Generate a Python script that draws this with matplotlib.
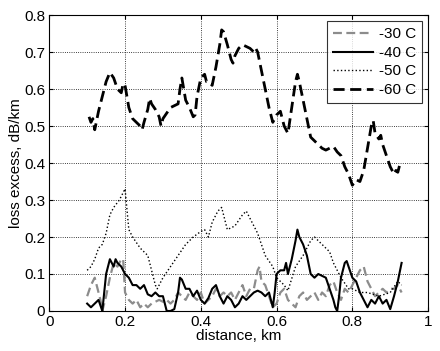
import numpy as np
import matplotlib
matplotlib.use("Agg")
import matplotlib.pyplot as plt

plt.rcParams['font.family'] = ['Liberation Sans', 'DejaVu Sans']

# -60 C
x60 = [0.105, 0.11, 0.115, 0.12, 0.13, 0.14, 0.15, 0.16, 0.17, 0.18, 0.19, 0.195, 0.20, 0.21,
       0.22, 0.23, 0.24, 0.245, 0.25, 0.26, 0.265, 0.27, 0.28, 0.29, 0.295, 0.30, 0.31, 0.32,
       0.33, 0.34, 0.345, 0.35, 0.355, 0.36, 0.37, 0.38, 0.385, 0.39, 0.40, 0.41, 0.415, 0.42,
       0.43, 0.44, 0.45, 0.455, 0.46, 0.47, 0.48, 0.485, 0.49, 0.50, 0.51, 0.52, 0.53, 0.54,
       0.545, 0.55, 0.56, 0.57, 0.58, 0.59, 0.60, 0.61, 0.62, 0.63, 0.64, 0.65, 0.655, 0.66,
       0.67, 0.68, 0.69, 0.70, 0.71, 0.72, 0.73, 0.74, 0.75, 0.76, 0.77, 0.78, 0.79, 0.80,
       0.81, 0.82, 0.83, 0.84, 0.85, 0.855, 0.86, 0.87, 0.875, 0.88, 0.89, 0.90, 0.91, 0.915,
       0.92, 0.925]
y60 = [0.525, 0.51, 0.52, 0.49, 0.54, 0.58, 0.62, 0.645, 0.63, 0.60, 0.59, 0.615, 0.61, 0.55,
       0.52, 0.51, 0.50, 0.49, 0.51, 0.545, 0.575, 0.56, 0.545, 0.525, 0.50, 0.52, 0.535, 0.55,
       0.555, 0.56, 0.60, 0.63, 0.60, 0.57, 0.55, 0.525, 0.53, 0.58, 0.63, 0.64, 0.62, 0.62,
       0.61, 0.66, 0.72, 0.76, 0.755, 0.72, 0.68, 0.67, 0.69, 0.71, 0.72, 0.715, 0.71, 0.70,
       0.71, 0.70, 0.65, 0.60, 0.55, 0.51, 0.53, 0.54, 0.50, 0.48, 0.55, 0.62, 0.64, 0.62,
       0.57, 0.52, 0.47, 0.46, 0.45, 0.44, 0.435, 0.44, 0.445, 0.43, 0.42, 0.39, 0.37, 0.34,
       0.355, 0.35, 0.38, 0.44, 0.50, 0.515, 0.48, 0.465, 0.475, 0.45, 0.42, 0.39, 0.37, 0.38,
       0.375, 0.395]

# -50 C
x50 = [0.10, 0.11, 0.12, 0.13, 0.14, 0.15, 0.16, 0.17, 0.185, 0.20, 0.21, 0.22, 0.24, 0.26,
       0.27, 0.28, 0.285, 0.30, 0.32, 0.34, 0.36, 0.38, 0.40, 0.41, 0.42, 0.43, 0.445, 0.455,
       0.47, 0.49, 0.51, 0.52, 0.53, 0.55, 0.57, 0.59, 0.60, 0.62, 0.63, 0.65, 0.67, 0.69,
       0.70, 0.72, 0.73, 0.74, 0.75, 0.77, 0.79, 0.80, 0.82, 0.84, 0.87, 0.90, 0.92, 0.93]
y50 = [0.11, 0.12, 0.14, 0.17, 0.18, 0.21, 0.26, 0.28, 0.30, 0.33, 0.22, 0.20, 0.17, 0.15,
       0.11, 0.07, 0.06, 0.09, 0.12, 0.15, 0.18, 0.20, 0.215, 0.22, 0.20, 0.24, 0.27, 0.28,
       0.22, 0.23, 0.26, 0.27, 0.25, 0.21, 0.15, 0.12, 0.09, 0.07, 0.055, 0.12, 0.15, 0.19,
       0.20, 0.18, 0.17, 0.16, 0.13, 0.09, 0.06, 0.06, 0.05, 0.05, 0.04, 0.05, 0.08, 0.07]

# -40 C
x40 = [0.10, 0.11, 0.12, 0.13, 0.14, 0.145, 0.15, 0.16, 0.17, 0.175, 0.18, 0.19, 0.20, 0.21,
       0.22, 0.23, 0.24, 0.25, 0.26, 0.27, 0.28, 0.29, 0.30, 0.31, 0.32, 0.33, 0.34, 0.345,
       0.35, 0.36, 0.37, 0.38, 0.39, 0.40, 0.41, 0.42, 0.43, 0.44, 0.45, 0.46, 0.47, 0.48,
       0.49, 0.50, 0.51, 0.52, 0.53, 0.54, 0.55, 0.56, 0.57, 0.58, 0.585, 0.59, 0.595, 0.60,
       0.61, 0.62, 0.625, 0.63, 0.64, 0.65, 0.655, 0.66, 0.67, 0.68, 0.69, 0.70, 0.71, 0.72,
       0.73, 0.74, 0.75, 0.755, 0.76, 0.765, 0.77, 0.78, 0.785, 0.79, 0.80, 0.81, 0.82, 0.83,
       0.84, 0.85, 0.86, 0.87, 0.88, 0.89, 0.90, 0.91, 0.92, 0.93]
y40 = [0.02, 0.01, 0.02, 0.03, 0.0, 0.05, 0.10, 0.14, 0.12, 0.14, 0.13, 0.12, 0.10, 0.09,
       0.07, 0.07, 0.06, 0.07, 0.045, 0.04, 0.05, 0.04, 0.04, 0.0, 0.0, 0.005, 0.05, 0.09,
       0.085, 0.06, 0.06, 0.04, 0.055, 0.03, 0.02, 0.035, 0.06, 0.07, 0.04, 0.02, 0.04, 0.03,
       0.01, 0.02, 0.04, 0.03, 0.04, 0.05, 0.055, 0.05, 0.04, 0.05, 0.03, 0.01, 0.05, 0.10,
       0.11, 0.11, 0.13, 0.10, 0.14, 0.19, 0.22, 0.20, 0.18, 0.15, 0.10, 0.09, 0.10, 0.095,
       0.09, 0.06, 0.03, 0.01, 0.0, 0.04, 0.09, 0.13, 0.135, 0.12, 0.09, 0.08, 0.05, 0.03,
       0.01, 0.03, 0.02, 0.04, 0.02, 0.03, 0.005, 0.04, 0.08, 0.13]

# -30 C
x30 = [0.10, 0.11, 0.12, 0.13, 0.135, 0.14, 0.15, 0.16, 0.17, 0.18, 0.19, 0.195, 0.20, 0.21,
       0.22, 0.23, 0.24, 0.25, 0.26, 0.27, 0.28, 0.29, 0.30, 0.31, 0.32, 0.33, 0.34, 0.35,
       0.36, 0.37, 0.38, 0.39, 0.40, 0.41, 0.42, 0.43, 0.44, 0.45, 0.46, 0.47, 0.48, 0.49,
       0.50, 0.51, 0.52, 0.53, 0.54, 0.55, 0.555, 0.56, 0.57, 0.58, 0.59, 0.60, 0.61, 0.62,
       0.63, 0.64, 0.65, 0.66, 0.67, 0.68, 0.69, 0.70, 0.71, 0.72, 0.73, 0.74, 0.75, 0.76,
       0.77, 0.78, 0.79, 0.80, 0.81, 0.82, 0.83, 0.84, 0.85, 0.86, 0.87, 0.88, 0.89, 0.90,
       0.91, 0.92, 0.93]
y30 = [0.04, 0.07, 0.09, 0.05, 0.03, 0.0, 0.04, 0.09, 0.13, 0.12, 0.14, 0.14, 0.05, 0.03,
       0.02, 0.03, 0.01, 0.02, 0.01, 0.02, 0.025, 0.03, 0.025, 0.03, 0.02, 0.03, 0.05, 0.04,
       0.03, 0.05, 0.04, 0.03, 0.05, 0.02, 0.03, 0.04, 0.06, 0.04, 0.05, 0.04, 0.05, 0.03,
       0.05, 0.07, 0.04, 0.06, 0.06, 0.11, 0.12, 0.08, 0.07, 0.04, 0.01, 0.02, 0.05, 0.06,
       0.03, 0.02, 0.01, 0.04, 0.05, 0.03, 0.04, 0.05, 0.03, 0.05, 0.04, 0.07, 0.08, 0.05,
       0.03, 0.06, 0.05, 0.07, 0.09, 0.11, 0.12, 0.08, 0.06, 0.04, 0.05, 0.06, 0.05, 0.06,
       0.06, 0.07, 0.05]

fig = plt.figure(figsize=(4.4, 3.51), dpi=100)
ax = fig.add_axes([0.112, 0.114, 0.861, 0.843])

ax.plot(x30, y30, color='#8c8c8c', ls=(0, (4, 2)), lw=1.6, label='-30 C')
ax.plot(x40, y40, color='black', ls='-', lw=1.5, label='-40 C')
ax.plot(x50, y50, color='black', ls=':', lw=1.0, label='-50 C')
ax.plot(x60, y60, color='black', ls=(0, (4, 2)), lw=2.0, label='-60 C')

ax.set_xlim(0, 1)
ax.set_ylim(0, 0.8)
ax.set_xticks([0, 0.2, 0.4, 0.6, 0.8, 1])
ax.set_xticklabels(['0', '0.2', '0.4', '0.6', '0.8', '1'])
ax.set_yticks(np.arange(0, 0.81, 0.1))
ax.set_yticklabels(['0', '0.1', '0.2', '0.3', '0.4', '0.5', '0.6', '0.7', '0.8'])
ax.grid(True, color='black', ls=':', lw=0.6)
ax.tick_params(direction='in', labelsize=11, top=True, right=True, length=3, pad=3)
ax.set_xlabel('distance, km', fontsize=11, labelpad=0)
ax.set_ylabel('loss excess, dB/km', fontsize=11, labelpad=1)

leg = ax.legend(loc='upper right', fontsize=11, frameon=True, fancybox=False,
                edgecolor='black', handlelength=2.6, borderaxespad=0.4,
                labelspacing=0.3, handletextpad=0.4, borderpad=0.4)
leg.get_frame().set_linewidth(0.8)

fig.savefig('out.png', dpi=100)
